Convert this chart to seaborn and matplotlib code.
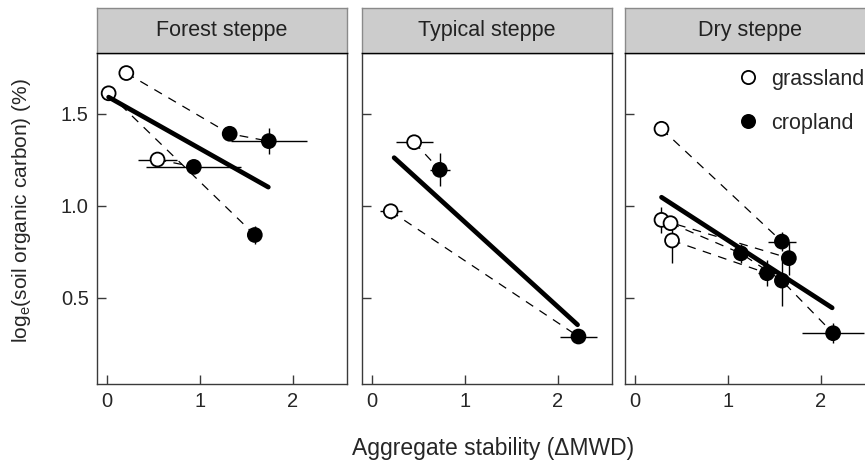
import numpy as np
import pandas as pd
import matplotlib
matplotlib.use("Agg")
import matplotlib.pyplot as plt
from matplotlib.lines import Line2D
import seaborn as sns

# ---- data -------------------------------------------------------------
regions = ["Forest steppe", "Typical steppe", "Dry steppe"]

point_region = (["Forest steppe"] * 7 + ["Typical steppe"] * 4 + ["Dry steppe"] * 10)
point_landuse = ["grassland", "cropland", "cropland", "grassland", "cropland", "grassland", "cropland",
                 "grassland", "cropland", "grassland", "cropland",
                 "grassland", "cropland", "grassland", "cropland", "grassland", "cropland",
                 "cropland", "cropland", "grassland", "cropland"]
point_site = ["F1", "F1", "F1", "F2", "F2", "F3", "F3",
              "T1", "T1", "T2", "T2",
              "D1", "D1", "D2", "D2", "D3", "D3", "D3", "D3", "D4", "D4"]
mwd = [0.21, 1.32, 1.74, 0.02, 1.59, 0.545, 0.935,
       0.455, 0.73, 0.204, 2.22,
       0.287, 1.58, 0.287, 1.655, 0.384, 1.14, 1.58, 2.13, 0.40, 1.42]
mwd_se = [0.03, 0.05, 0.41, 0.02, 0.03, 0.21, 0.51,
          0.20, 0.11, 0.12, 0.20,
          0.03, 0.15, 0.03, 0.05, 0.04, 0.07, 0.05, 0.33, 0.05, 0.10]
log_soc = [1.72, 1.39, 1.35, 1.61, 0.84, 1.25, 1.21,
           1.344, 1.194, 0.969, 0.288,
           1.417, 0.804, 0.922, 0.714, 0.904, 0.74, 0.592, 0.306, 0.81, 0.632]
log_soc_se = [0.02, 0.03, 0.07, 0.02, 0.05, 0.02, 0.02,
              0.03, 0.09, 0.04, 0.02,
              0.03, 0.05, 0.07, 0.09, 0.03, 0.05, 0.14, 0.055, 0.12, 0.07]

# fitted trend per region (start and end of the line)
fit_region = ["Forest steppe", "Typical steppe", "Dry steppe"]
fit_x = [[0.02, 1.735], [0.24, 2.21], [0.287, 2.12]]
fit_y = [[1.589, 1.10], [1.26, 0.352], [1.045, 0.444]]

x_ticks = [0, 1, 2]
y_ticks = [0.5, 1.0, 1.5]

df = pd.DataFrame({"region": point_region, "landuse": point_landuse, "site": point_site,
                   "mwd": mwd, "mwd_se": mwd_se, "soc": log_soc, "soc_se": log_soc_se})

# ---- style ------------------------------------------------------------
sns.set_style("ticks")
plt.rcParams["font.family"] = ["Liberation Sans", "DejaVu Sans"]
plt.rcParams["mathtext.fontset"] = "custom"
plt.rcParams["mathtext.rm"] = "Liberation Sans"
plt.rcParams["mathtext.it"] = "Liberation Sans:italic"

frame_col = "#3a3a3a"
fs_tick = 14.5
fs_strip = 15.5

W, H = 865, 461
fig = plt.figure(figsize=(W / 100, H / 100), dpi=100)

panel_left = [97, 362, 625]
panel_w = 250
top_px, bottom_px, strip_top = 53, 384, 8

palette = {"grassland": "white", "cropland": "black"}

for i, reg in enumerate(regions):
    l = panel_left[i] / W
    b = 1 - bottom_px / H
    h = (bottom_px - top_px) / H
    ax = fig.add_axes([l, b, panel_w / W, h])
    sub = df[df["region"] == reg]

    # dashed lines joining the plots of each site
    sns.lineplot(data=sub, x="mwd", y="soc", units="site", estimator=None, sort=False,
                 color="black", linewidth=0.9, linestyle=(0, (7, 6)), ax=ax,
                 legend=False, zorder=1)
    # standard errors
    ax.errorbar(sub["mwd"], sub["soc"], xerr=sub["mwd_se"], yerr=sub["soc_se"],
                fmt="none", ecolor="black", elinewidth=1.0, capsize=0, zorder=2)
    # site means
    sns.scatterplot(data=sub, x="mwd", y="soc", hue="landuse", palette=palette,
                    edgecolor="black", linewidth=1.3, s=100, legend=False, ax=ax, zorder=3)
    # regional trend
    j = fit_region.index(reg)
    sns.lineplot(x=fit_x[j], y=fit_y[j], color="black", linewidth=3.4, ax=ax,
                 legend=False, zorder=4)

    ax.set_xlim(-0.105, 2.58)
    ax.set_ylim(0.03, 1.829)
    ax.set_xticks(x_ticks)
    ax.set_yticks(y_ticks)
    ax.set_xticklabels([str(t) for t in x_ticks], fontsize=fs_tick)
    if i == 0:
        ax.set_yticklabels([f"{t:.1f}" for t in y_ticks], fontsize=fs_tick)
    else:
        ax.set_yticklabels([])
    ax.tick_params(direction="in", length=6.5, width=1.0, color=frame_col, pad=6)
    ax.set_xlabel("")
    ax.set_ylabel("")
    for sp in ax.spines.values():
        sp.set_visible(True)
        sp.set_color(frame_col)
        sp.set_linewidth(1.0)

    # strip with the region name
    sax = fig.add_axes([l, 1 - top_px / H, panel_w / W, (top_px - strip_top) / H])
    sax.set_facecolor("#cccccc")
    sax.set_xticks([])
    sax.set_yticks([])
    for sp in sax.spines.values():
        sp.set_color("#8a8a8a")
        sp.set_linewidth(1.0)
    sax.spines["bottom"].set_color("black")
    sax.text(0.5, 0.5, reg, ha="center", va="center", fontsize=fs_strip, color="#222222",
             transform=sax.transAxes)

# legend inside the dry steppe panel
handles = [Line2D([], [], linestyle="none", marker="o", markersize=9.5,
                  markerfacecolor=c, markeredgecolor="black", markeredgewidth=1.3)
           for c in ("white", "black")]
fig.legend(handles, ["grassland", "cropland"], loc="upper left",
           bbox_to_anchor=(737 / W, 1 - 69 / H), bbox_transform=fig.transFigure,
           frameon=False, fontsize=fs_strip, handlelength=1.0, handletextpad=0.6,
           borderpad=0, borderaxespad=0, labelspacing=1.05)

fig.text(493 / W, 1 - 448 / H, "Aggregate stability (\u0394MWD)", ha="center", va="center",
         fontsize=16.5)
fig.text(22 / W, 1 - 211 / H, r"log$_\mathregular{e}$(soil organic carbon) (%)", ha="center",
         va="center", rotation=90, fontsize=15)

fig.savefig("out.png", dpi=100)
